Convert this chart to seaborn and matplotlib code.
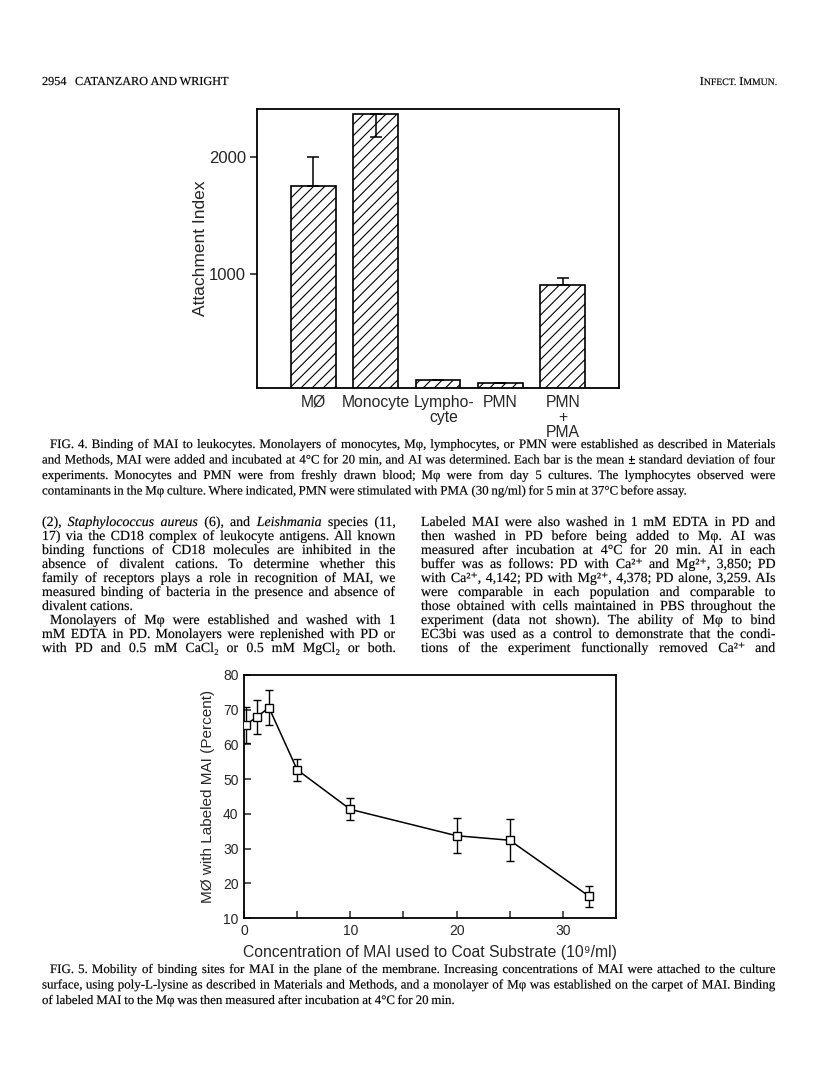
import matplotlib
matplotlib.use("Agg")
import matplotlib.pyplot as plt
from matplotlib.transforms import ScaledTranslation, Affine2D
from matplotlib.textpath import TextPath
from matplotlib.patches import PathPatch
from matplotlib.font_manager import FontProperties
import numpy as np
import pandas as pd
import seaborn as sns

W, H = 816, 1082

# Fig. 4 - attachment index per cell type
cell_types = ["MØ", "Monocyte", "Lympho-\ncyte", "PMN", "PMN\n+\nPMA"]
attach_index = [1753, 2363, 99, 71, 906]
attach_err_low = [0, 193, 0, 0, 0]
attach_err_high = [247, 0, 0, 0, 57]

# Fig. 5 - percent of MO binding labeled MAI vs coating concentration
mai_conc = [0.15, 1.2, 2.35, 5, 10, 20, 25, 32.5]
pct_labeled = [65.6, 67.9, 70.6, 52.7, 41.3, 33.7, 32.4, 16.2]
pct_sd = [5.2, 5.0, 5.0, 3.1, 3.2, 5.0, 6.1, 3.1]

caption4 = [
    "FIG. 4. Binding of MAI to leukocytes. Monolayers of monocytes, Mφ, lymphocytes, or PMN were established as described in Materials",
    "and Methods, MAI were added and incubated at 4°C for 20 min, and AI was determined. Each bar is the mean ± standard deviation of four",
    "experiments. Monocytes and PMN were from freshly drawn blood; Mφ were from day 5 cultures. The lymphocytes observed were",
    "contaminants in the Mφ culture. Where indicated, PMN were stimulated with PMA (30 ng/ml) for 5 min at 37°C before assay.",
]
left_col = [
    "(2), ~Staphylococcus ~aureus (6), and ~Leishmania species (11,",
    "17) via the CD18 complex of leukocyte antigens. All known",
    "binding functions of CD18 molecules are inhibited in the",
    "absence of divalent cations. To determine whether this",
    "family of receptors plays a role in recognition of MAI, we",
    "measured binding of bacteria in the presence and absence of",
    "divalent cations.",
    "Monolayers of Mφ were established and washed with 1",
    "mM EDTA in PD. Monolayers were replenished with PD or",
    "with PD and 0.5 mM CaCl₂ or 0.5 mM MgCl₂ or both.",
]
right_col = [
    "Labeled MAI were also washed in 1 mM EDTA in PD and",
    "then washed in PD before being added to Mφ. AI was",
    "measured after incubation at 4°C for 20 min. AI in each",
    "buffer was as follows: PD with Ca²⁺ and Mg²⁺, 3,850; PD",
    "with Ca²⁺, 4,142; PD with Mg²⁺, 4,378; PD alone, 3,259. AIs",
    "were comparable in each population and comparable to",
    "those obtained with cells maintained in PBS throughout the",
    "experiment (data not shown). The ability of Mφ to bind",
    "EC3bi was used as a control to demonstrate that the condi-",
    "tions of the experiment functionally removed Ca²⁺ and",
]
caption5 = [
    "FIG. 5. Mobility of binding sites for MAI in the plane of the membrane. Increasing concentrations of MAI were attached to the culture",
    "surface, using poly-L-lysine as described in Materials and Methods, and a monolayer of Mφ was established on the carpet of MAI. Binding",
    "of labeled MAI to the Mφ was then measured after incubation at 4°C for 20 min.",
]

sns.set_style("white")
plt.rcParams['font.family'] = ['Liberation Sans', 'DejaVu Sans']
plt.rcParams['hatch.linewidth'] = 0.8
SERIF = ['Liberation Serif', 'DejaVu Serif']
EXOTIC = set('⁺₂⁹')

fig = plt.figure(figsize=(W / 100, H / 100), dpi=100)


def axes_px(l, t, r, b):
    return fig.add_axes([l / W, 1 - b / H, (r - l) / W, (b - t) / H])


# page text is drawn as glyph paths so every word sits on the same baseline
def make_word(w, size, style='normal'):
    fam = SERIF if EXOTIC & set(w) else ['Liberation Serif']
    return TextPath((0, 0), w, size=size * 100 / 72, prop=FontProperties(family=fam, style=style))


def put(tp, x, y, k=1.0):
    tr = Affine2D().scale(k).translate(x, H - y)
    fig.add_artist(PathPatch(tp, transform=tr, facecolor='black', edgecolor='black', lw=0.12))


def text_line(x0, x1, y, line, size, justify=True):
    paths = []
    for w in line.split(' '):
        style = 'normal'
        if w.startswith('~'):
            w, style = w[1:], 'italic'
        paths.append(make_word(w, size, style))
    widths = [p.get_extents().x1 for p in paths]
    k = 1.0
    if justify and len(paths) > 1:
        gap = (x1 - x0 - sum(widths)) / (len(paths) - 1)
        if gap < 2:
            k = (x1 - x0 - 2 * (len(paths) - 1)) / sum(widths)
            widths = [wd * k for wd in widths]
            gap = 2
    else:
        gap = size * 100 / 72 * 0.25
    x = x0
    for p, w in zip(paths, widths):
        put(p, x, y, k)
        x += w + gap


def paragraph(lines, x0, x1, y0, step, size, last_ragged=(), indent=()):
    for i, line in enumerate(lines):
        xs = x0 + (8 if i in indent else 0)
        text_line(xs, x1, y0 + i * step, line, size, justify=i not in last_ragged)


# ---- header
put(make_word("2954", 8.8), 42, 85)
text_line(75, 0, 85, "CATANZARO AND WRIGHT", 8.8, justify=False)
pieces = [make_word("I", 8.8), make_word("NFECT.", 7.0), make_word("I", 8.8), make_word("MMUN.", 7.0)]
advance = [p.get_extents().x1 for p in pieces]
advance[1] += 3
x = 775 - sum(advance)
for p, a in zip(pieces, advance):
    put(p, x, 85)
    x += a + 0.5

# ---- Fig. 4 bar chart
ax1 = axes_px(257, 109, 619, 388)
df4 = pd.DataFrame({"cell": cell_types, "ai": attach_index})
sns.barplot(data=df4, x="cell", y="ai", ax=ax1, color="white", edgecolor="black",
            linewidth=1.2, width=0.72, errorbar=None)
for p in ax1.patches:
    p.set_hatch('///')
    p.set_facecolor('white')
ax1.errorbar(range(len(cell_types)), attach_index, yerr=[attach_err_low, attach_err_high],
             fmt='none', ecolor='black', elinewidth=1.1, capsize=4.5, capthick=1.1)
ax1.set_xlim(-0.9, 4.9)
ax1.set_ylim(30, 2405)
ax1.set_yticks([1000, 2000])
ax1.tick_params(axis='y', direction='out', length=5, width=1.2, labelsize=12, pad=3, left=True)
ax1.tick_params(axis='x', length=0, labelsize=11.3, pad=5)
for i, lbl in enumerate(ax1.get_xticklabels()):
    lbl.set_linespacing(1.0)
    if i == 2:
        lbl.set_transform(lbl.get_transform() + ScaledTranslation(6 / 100, 0, fig.dpi_scale_trans))
ax1.set_xlabel("")
ax1.set_ylabel("Attachment Index", fontsize=12.5, va='center')
ax1.yaxis.set_label_coords(-0.155, 0.5)
for s in ax1.spines.values():
    s.set_visible(True)
    s.set_linewidth(1.3)
    s.set_color('black')

# ---- Fig. 4 caption and body text
paragraph(caption4, 42, 775, 448, 15.5, 9.3, last_ragged=(3,), indent=(0,))
paragraph(left_col, 42, 395, 526, 14, 10, last_ragged=(6,), indent=(7,))
paragraph(right_col, 421, 775, 526, 14, 10)

# ---- Fig. 5 line chart
ax2 = axes_px(244, 675, 616, 918)
df5 = pd.DataFrame({"conc": mai_conc, "pct": pct_labeled})
ax2.errorbar(mai_conc, pct_labeled, yerr=pct_sd, fmt='none', ecolor='black',
             elinewidth=1.0, capsize=3, capthick=1.0, zorder=1)
sns.lineplot(data=df5, x="conc", y="pct", ax=ax2, color="black", linewidth=1.1,
             marker='s', markersize=5.5, markerfacecolor='white',
             markeredgecolor='black', markeredgewidth=1, zorder=3)
ax2.set_xlim(0, 35)
ax2.set_ylim(10, 80)
ax2.set_xticks([0, 10, 20, 30])
ax2.set_xticks([5, 15, 25], minor=True)
ax2.set_yticks(np.arange(10, 81, 10))
ax2.tick_params(axis='both', which='both', direction='in', length=5, width=1.1,
                labelsize=10, pad=4, bottom=True, left=True)
ax2.set_xlabel("Concentration of MAI used to Coat Substrate (10⁹/ml)", fontsize=11.3, va='center')
ax2.xaxis.set_label_coords(0.5, -0.144)
ax2.set_ylabel("MØ with Labeled MAI (Percent)", fontsize=11, va='center')
ax2.yaxis.set_label_coords(-0.098, 0.5)
for s in ax2.spines.values():
    s.set_visible(True)
    s.set_linewidth(1.3)
    s.set_color('black')

paragraph(caption5, 42, 775, 973, 15.5, 9.3, last_ragged=(2,), indent=(0,))

fig.savefig("out.png", dpi=100)
